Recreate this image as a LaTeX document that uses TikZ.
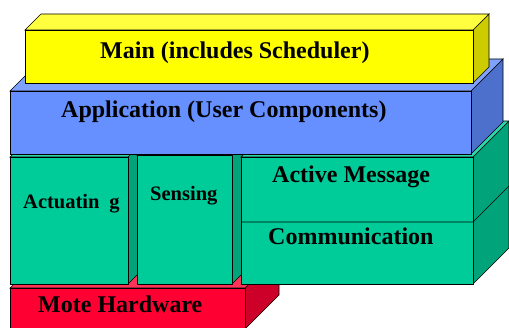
\documentclass[tikz,border=0pt]{standalone}
\usepackage{fontspec}
\setmainfont{Liberation Serif}
\definecolor{yelF}{HTML}{FFFF00}
\definecolor{yelT}{HTML}{FFFF40}
\definecolor{yelS}{HTML}{CCCC00}
\definecolor{bluF}{HTML}{6690FF}
\definecolor{bluT}{HTML}{7FA2FF}
\definecolor{bluS}{HTML}{4D70CC}
\definecolor{grnF}{HTML}{00CC99}
\definecolor{grnT}{HTML}{2ED6AB}
\definecolor{grnS}{HTML}{00A37A}
\definecolor{redF}{HTML}{FF0033}
\definecolor{redT}{HTML}{FF3358}
\definecolor{redS}{HTML}{CC0029}
% a 3D slab: #1 left, #2 bottom, #3 right, #4 top, #5 depth, #6 front, #7 top, #8 side
\newcommand{\slab}[8]{%
  \filldraw[edge,fill=#8] (#3,#2) -- ++(#5,#5) -- (#3+#5,#4+#5) -- (#3,#4) -- cycle;
  \filldraw[edge,fill=#7] (#1,#4) -- ++(#5,#5) -- (#3+#5,#4+#5) -- (#3,#4) -- cycle;
  \filldraw[edge,fill=#6] (#1,#2) rectangle (#3,#4);
}
\tikzset{
  edge/.style={draw=black,line width=0.7pt,line join=miter},
  lbl/.style={inner sep=0pt,anchor=base west,font=\bfseries\fontsize{24}{28}\selectfont},
  lblsmall/.style={inner sep=0pt,anchor=base west,font=\bfseries\fontsize{20.5}{24}\selectfont}
}
\begin{document}
\begin{tikzpicture}[x=1pt,y=1pt]
\useasboundingbox (0,0) rectangle (509,327);
\clip (0,0) rectangle (509,327);
% hardware layer
\slab{10}{-2}{245}{39}{34}{redF}{redT}{redS}
% middle layer: actuating, sensing, messaging
\slab{10}{43}{128}{170}{36}{grnF}{grnT}{grnS}
\slab{137}{43}{232}{172}{36}{grnF}{grnT}{grnS}
\slab{241}{43}{473}{170}{36}{grnF}{grnT}{grnS}
\draw[edge] (241,105) -- (473,105) -- ++(36,36);
% application layer
\slab{10}{173}{471}{236}{32}{bluF}{bluT}{bluS}
% main layer
\slab{25}{244}{473}{297}{16}{yelF}{yelT}{yelS}
% labels
\node[lbl] (main) at (100,268) {Main (includes Scheduler)};
\node[lbl] (app) at (61,209) {Application (User Components)};
\node[lbl] (am) at (272,144) {Active Message};
\node[lbl] (comm) at (268,82) {Communication};
\node[lbl] (hw) at (38,15) {Mote Hardware};
\node[lblsmall] (sens) at (150,126) {Sensing};
\node[lblsmall] (act) at (23,118) {Actuatin\hspace{10pt}g};
\end{tikzpicture}
\end{document}
